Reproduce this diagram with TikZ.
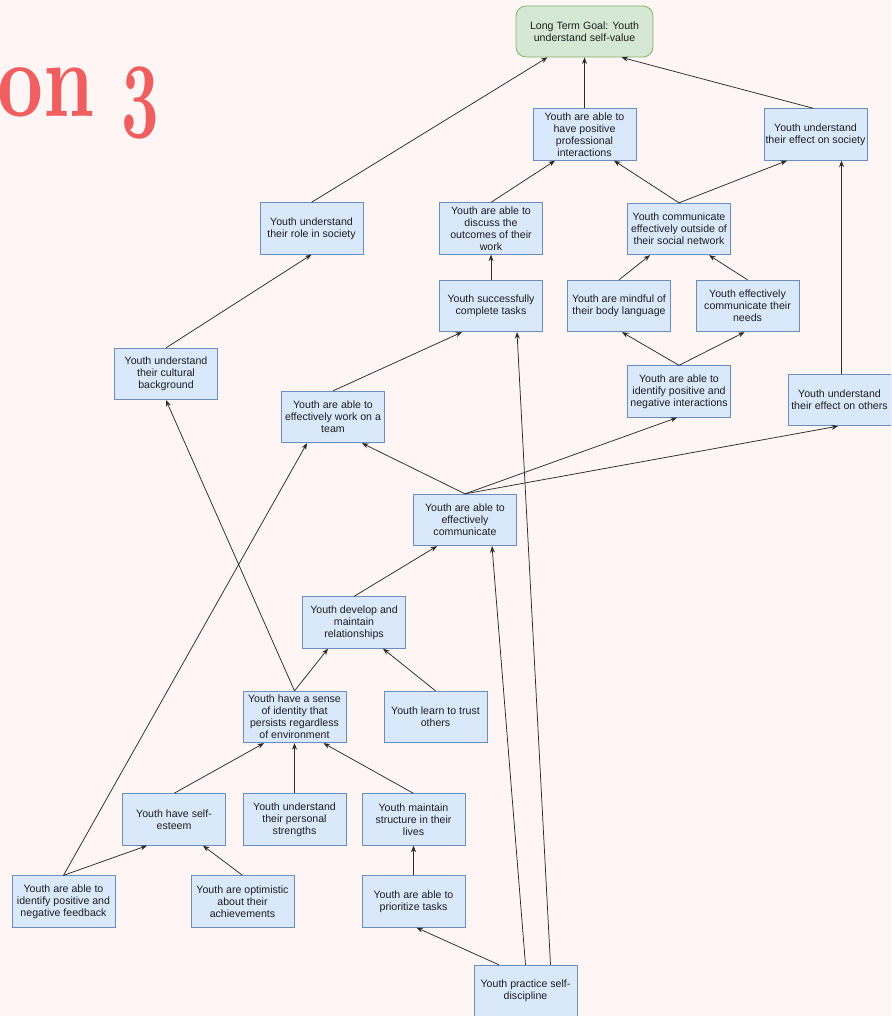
\documentclass[tikz,border=0pt]{standalone}
\usepackage{fontspec}
\setmainfont{Liberation Sans}
\usetikzlibrary{arrows.meta}

\definecolor{pagebg}{HTML}{FFF5F5}
\definecolor{boxfill}{HTML}{DAE8FC}
\definecolor{boxline}{HTML}{6C8EBF}
\definecolor{goalfill}{HTML}{D5E8D4}
\definecolor{goalline}{HTML}{82B366}
\definecolor{titlered}{RGB}{240,95,95}
\definecolor{textgray}{HTML}{1E1E1E}
\definecolor{linegray}{HTML}{2A2A2A}

\newcommand\boxfont{\fontsize{10.6}{12}\selectfont}

\tikzset{
  box/.style={draw=boxline, fill=boxfill, line width=0.8pt,
    minimum width=103pt, minimum height=51.5pt, inner sep=1pt,
    align=center, font=\boxfont, text=textgray},
  goalbox/.style={box, draw=goalline, fill=goalfill,
    rounded corners=10pt, minimum width=137pt, minimum height=51pt},
  link/.style={draw=linegray, line width=0.75pt,
    -{Stealth[length=6.5pt,width=5pt]}},
}

\begin{document}
\begin{tikzpicture}[x=1pt,y=-1pt]
\useasboundingbox (0,0) rectangle (891,1016);
\clip (0,0) rectangle (891,1016);
\fill[pagebg] (0,0) rectangle (891,1016);

% heading fragment (set at 10pt, then enlarged)
\node[anchor=base west, inner sep=0, text=titlered] (heading) at (-3,117)
  {\scalebox{7.99}[10.8]{\fontsize{10}{10}\usefont{OT1}{cmr}{bx}{n}on\kern3.4pt\scalebox{0.82}[1]{\usefont{OML}{cmm}{b}{it}3}}};

% outcome boxes
\node[goalbox] (goal) at (584.5,31.5) {Long Term Goal: Youth\\understand self-value};
\node[box] (prof) at (584.5,134.5) {Youth are able to\\have positive\\professional\\interactions};
\node[box] (society) at (815.5,134.5) {Youth understand\\their effect on society};
\node[box] (commout) at (679,229) {Youth communicate\\effectively outside of\\their social network};
\node[box] (role) at (311.5,228.5) {Youth understand\\their role in society};
\node[box] (discuss) at (491,228.5) {Youth are able to\\discuss the\\outcomes of their\\work};
\node[box] (tasks) at (491,306) {Youth successfully\\complete tasks};
\node[box] (body) at (619,306) {Youth are mindful of\\their body language};
\node[box] (needs) at (747.5,306) {Youth effectively\\communicate their\\needs};
\node[box] (interact) at (679,391.5) {Youth are able to\\identify positive and\\negative interactions};
\node[box] (others) at (839.5,400) {Youth understand\\their effect on others};
\node[box] (cultural) at (166,374) {Youth understand\\their cultural\\background};
\node[box] (team) at (333,417) {Youth are able to\\effectively work on a\\team};
\node[box] (effcomm) at (465,520) {Youth are able to\\effectively\\communicate};
\node[box] (relat) at (354,622.5) {Youth develop and\\maintain\\relationships};
\node[box] (identity) at (294.5,717) {Youth have a sense\\of identity that\\persists regardless\\of environment};
\node[box] (trust) at (435.5,717) {Youth learn to trust\\others};
\node[box] (esteem) at (174,819.5) {Youth have self-\\esteem};
\node[box] (strengths) at (294.5,819.5) {Youth understand\\their personal\\strengths};
\node[box] (structure) at (413.5,819.5) {Youth maintain\\structure in their\\lives};
\node[box] (feedback) at (63.5,901.5) {Youth are able to\\identify positive and\\negative feedback};
\node[box] (optim) at (242.5,901.5) {Youth are optimistic\\about their\\achievements};
\node[box] (prior) at (413.5,901.5) {Youth are able to\\prioritize tasks};
\node[box] (discipline) at (525.5,991) {Youth practice self-\\discipline};

% links
\draw[link] (role.north) -- ([xshift=-37pt]goal.south);
\draw[link] (prof.north) -- (goal.south);
\draw[link] ([xshift=-2pt]society.north) -- ([xshift=37pt]goal.south);
\draw[link] (discuss.north) -- ([xshift=-29.5pt]prof.south);
\draw[link] (commout.north) -- ([xshift=29.5pt]prof.south);
\draw[link] (commout.north) -- ([xshift=-28.5pt]society.south);
\draw[link] (tasks.north) -- (discuss.south);
\draw[link] (body.north) -- ([xshift=-29pt]commout.south);
\draw[link] (needs.north) -- ([xshift=30pt]commout.south);
\draw[link] (interact.north) -- ([xshift=3pt]body.south);
\draw[link] (interact.north) -- ([xshift=-3pt]needs.south);
\draw[link] ([xshift=2pt]others.north) -- ([xshift=2pt]others.north |- society.south);
\draw[link] (cultural.north) -- (role.south);
\draw[link] (team.north) -- ([xshift=-29pt]tasks.south);
\draw[link] (effcomm.north) -- ([xshift=29pt]team.south);
\draw[link] (effcomm.north) -- ([xshift=-2pt]interact.south);
\draw[link] (effcomm.north) -- ([xshift=-1.5pt]others.south);
\draw[link] (relat.north) -- ([xshift=-28pt]effcomm.south);
\draw[link] (identity.north) -- ([xshift=-26pt]relat.south);
\draw[link] (identity.north) -- (cultural.south);
\draw[link] (trust.north) -- ([xshift=29pt]relat.south);
\draw[link] (esteem.north) -- ([xshift=-30.5pt]identity.south);
\draw[link] (strengths.north) -- (identity.south);
\draw[link] (structure.north) -- ([xshift=29pt]identity.south);
\draw[link] (feedback.north) -- ([xshift=-27pt]esteem.south);
\draw[link] (feedback.north) -- ([xshift=-26pt]team.south);
\draw[link] (optim.north) -- ([xshift=29pt]esteem.south);
\draw[link] (prior.north) -- (structure.south);
\draw[link] ([xshift=-26.5pt]discipline.north) -- ([xshift=3pt]prior.south);
\draw[link] (discipline.north) -- ([xshift=27pt]effcomm.south);
\draw[link] ([xshift=25pt]discipline.north) -- ([xshift=26pt]tasks.south);
\end{tikzpicture}
\end{document}
